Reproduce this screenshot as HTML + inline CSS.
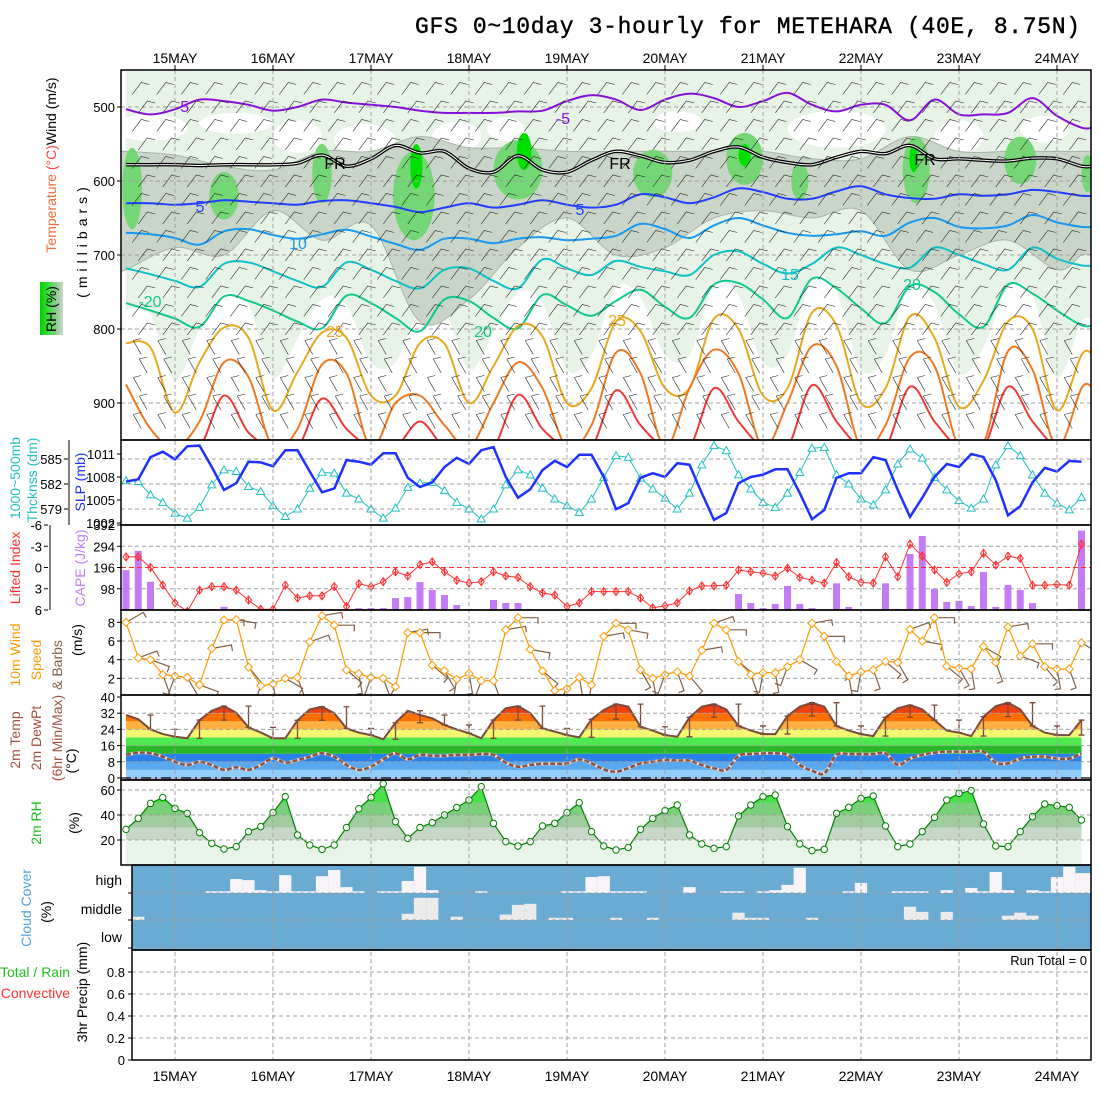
<!DOCTYPE html>
<html><head><meta charset="utf-8"><title>GFS meteogram METEHARA</title>
<style>
html,body{margin:0;padding:0;background:#fff;}
svg{display:block;font-family:"Liberation Sans",sans-serif;}
</style></head>
<body>
<svg id="c" xmlns="http://www.w3.org/2000/svg" width="1100" height="1100" viewBox="0 0 1100 1100">
<rect x="0" y="0" width="1100" height="1100" fill="#fff"/>
<text x="415" y="33" font-family="Liberation Mono, monospace" font-size="23" textLength="665" stroke="#000" stroke-width="0.4">GFS 0~10day 3-hourly for METEHARA (40E, 8.75N)</text>
<defs>
<clipPath id="cpTop"><rect x="121" y="70" width="970" height="370"/></clipPath>
<clipPath id="cpThk"><rect x="121" y="440" width="970" height="85"/></clipPath>
<clipPath id="cpCape"><rect x="121" y="525" width="970" height="85"/></clipPath>
<clipPath id="cpWind"><rect x="121" y="610" width="970" height="85"/></clipPath>
<clipPath id="cpTemp"><rect x="121" y="695" width="970" height="85"/></clipPath>
<clipPath id="cpRh"><rect x="121" y="780" width="970" height="85"/></clipPath>
<linearGradient id="rhBox" x1="0" y1="0" x2="1" y2="0">
<stop offset="0" stop-color="#00d000"/><stop offset="0.4" stop-color="#40e040"/><stop offset="0.7" stop-color="#90c890"/><stop offset="1" stop-color="#c8d8c8"/>
</linearGradient>
</defs>
<g id="layer"></g>
<g font-size="14">
<rect x="40" y="282" width="23" height="53" fill="url(#rhBox)"/>
<text transform="rotate(-90 56 309)" x="56" y="309" text-anchor="middle">RH (%)</text>
<text transform="rotate(-90 56 165)" x="56" y="165" text-anchor="middle"><tspan fill="#f06a3a">Temperature</tspan><tspan fill="#ff4040"> (°C)</tspan><tspan fill="#000">Wind (m/s)</tspan></text>
<text transform="rotate(-90 87 240)" x="87" y="240" text-anchor="middle" letter-spacing="5">(millibars)</text>
<text transform="rotate(-90 20 478)" x="20" y="478" text-anchor="middle" fill="#20c0c0">1000~500mb</text>
<text transform="rotate(-90 37 480)" x="37" y="480" text-anchor="middle" fill="#20c0c0">Thcknss (dm)</text>
<text transform="rotate(-90 85 482)" x="85" y="482" text-anchor="middle" fill="#2030ff">SLP (mb)</text>
<text transform="rotate(-90 20 568)" x="20" y="568" text-anchor="middle" fill="#ff3030">Lifted Index</text>
<text transform="rotate(-90 85 568)" x="85" y="568" text-anchor="middle" fill="#c080f8">CAPE (J/kg)</text>
<text transform="rotate(-90 20 655)" x="20" y="655" text-anchor="middle" fill="#ff9900">10m Wind</text>
<text transform="rotate(-90 41 660)" x="41" y="660" text-anchor="middle" fill="#ff9900">Speed</text>
<text transform="rotate(-90 62 665)" x="62" y="665" text-anchor="middle" fill="#806048">&amp; Barbs</text>
<text transform="rotate(-90 82 640)" x="82" y="640" text-anchor="middle">(m/s)</text>
<text transform="rotate(-90 20 740)" x="20" y="740" text-anchor="middle" fill="#a05040">2m Temp</text>
<text transform="rotate(-90 41 738)" x="41" y="738" text-anchor="middle" fill="#a05040">2m DewPt</text>
<text transform="rotate(-90 62 738)" x="62" y="738" text-anchor="middle" fill="#a05040">(6hr Min/Max)</text>
<text transform="rotate(-90 76 761)" x="76" y="761" text-anchor="middle">(°C)</text>
<text transform="rotate(-90 41 823)" x="41" y="823" text-anchor="middle" fill="#20c020">2m RH</text>
<text transform="rotate(-90 79 823)" x="79" y="823" text-anchor="middle">(%)</text>
<text transform="rotate(-90 31 908)" x="31" y="908" text-anchor="middle" fill="#50a0d8">Cloud Cover</text>
<text transform="rotate(-90 51 912)" x="51" y="912" text-anchor="middle">(%)</text>
<text x="70" y="977" text-anchor="end" fill="#20c020">Total / Rain</text>
<text x="70" y="998" text-anchor="end" fill="#ff3030">Convective</text>
<text transform="rotate(-90 87 992)" x="87" y="992" text-anchor="middle">3hr Precip (mm)</text>
<text x="1087" y="965" text-anchor="end" font-size="13">Run Total = 0</text>
</g>
</svg>
<script>
// ===== DATA =====
const days = ["15MAY","16MAY","17MAY","18MAY","19MAY","20MAY","21MAY","22MAY","23MAY","24MAY"];
const slp = [1007.4,1007.7,1010.6,1011.3,1010.3,1012,1012.1,1009.3,1006.3,1007.2,1010,1009.9,1009.4,1011.5,1011.5,1008.7,1006,1006.5,1010.2,1010,1009.6,1011.1,1011.1,1007.9,1006.7,1007.3,1009.3,1010.5,1009.7,1011.5,1011.9,1008,1005.3,1006.4,1008.9,1010.1,1009.3,1010.9,1010.9,1008,1003.8,1004.6,1007.9,1008.5,1008,1009.8,1009.6,1005.9,1002.4,1003.3,1007.2,1008,1008.3,1009,1009,1005.9,1002.5,1003.7,1007.9,1008.5,1008.5,1010.6,1010.2,1006.3,1002.8,1005.3,1008,1009.7,1009.3,1011,1010.6,1007.6,1003,1004.2,1007.3,1009.2,1008.7,1010.1,1010];
const thick = [582.4,582.3,580.7,579.8,578.5,577.9,579.2,581.9,583.7,583.5,581.7,581.1,579.4,578.1,579,581.5,583.4,583.3,580.9,580.2,579,577.9,579.1,581.6,582.1,582.2,581.2,579.8,579,577.8,579,581.9,583.7,583.1,581.5,580.2,579.4,578.6,580.2,582.8,585.4,585.2,582.7,581.4,580.3,579,580.9,584.3,586.6,586,583.1,581.4,579.8,579.2,580.9,583.4,586.3,586.4,583.1,582,580.2,579.5,581.3,584.4,586.2,585.1,582.8,581.3,580,579.1,580.2,584.3,586.6,585.4,583.1,580.9,579.7,578.9,580.4];
const cape = [184,273,130,0,0,0,0,5,15,0,0,0,0,0,0,0,5,0,0,9,9,9,55,60,129,92,69,23,5,0,46,32,32,5,0,0,0,0,0,5,5,0,0,0,0,0,0,5,5,0,74,32,9,28,111,28,9,0,123,14,0,0,123,5,258,341,97,37,42,18,175,14,115,92,32,0,0,5,366];
const liftedIndex = [-1.5,-1.5,0,2.5,5,6.2,3.2,2.7,2.7,3.2,4.6,5.9,5.9,2.5,4.3,4,4,2.7,5.5,2.3,2.7,2,0.6,1.2,-0.4,-0.8,0.6,1.8,2.2,2,0.6,1.2,1.4,2.7,3.6,3.9,5.5,5,3.4,3.4,3.4,3.4,4.3,5.7,5.4,5,3.3,2.6,2.6,2.5,0.35,0.6,0.8,1.2,0.1,1.4,1.8,2.2,-0.7,1.3,2.1,2.2,-1.5,1.3,-3.3,-1.6,0.35,2.1,0.9,0.6,-2,-0.35,-1.6,-1.3,2.5,2.5,2.4,2.5,-3.3];
const windSpeed = [8.0,4.2,4.0,2.4,2.25,2.1,1.3,5.2,8.25,8.3,3.2,1.2,1.4,2,2.1,5.9,8.7,7.7,2.9,2.5,2.1,2.0,1.1,6.9,6.9,3.4,2.8,1.9,2.5,1.75,1.75,7.2,8.5,5.1,2.8,0.7,0.9,2.1,1.3,6.5,7.9,7.2,2.9,2.0,2.4,2.7,2.25,5,7.9,7.2,3.8,2.4,2.6,2.6,3.25,4,7.9,6.5,3.8,2.25,2.7,2.9,3.8,3.7,7.25,6.0,8.5,3.3,3.1,3,5.4,3.7,7.5,4.4,5.7,3.25,3,3,5.8];
const windDir = [60,70,110,160,200,150,110,80,90,100,140,200,170,120,160,70,80,90,130,170,200,160,210,80,90,130,150,190,170,200,160,80,90,100,130,200,210,170,190,80,90,100,150,170,200,160,140,80,70,90,130,160,190,170,200,120,80,90,140,170,190,160,130,150,70,100,90,130,150,170,120,160,80,110,90,140,170,160,120];
const temp2m = [31.1,29,24,21.7,20.4,19.6,28.6,33.2,35.5,32.2,25,22.4,19.6,19.6,28.5,33.9,35.2,32,24.5,22.4,21.2,19.1,27.3,33.2,31.1,29.5,26.2,24,22.1,19.6,28.6,34.4,35.5,32,24.5,22.9,21.2,20.1,29,33.6,36.5,35.2,25.3,23.4,21.2,20.4,30,35.2,36.5,33.9,25.7,23.4,21.7,21.7,30.6,35.2,37.2,35.2,25.7,23.4,21.7,20.7,30,34.4,36,33.9,28.6,23.4,22.4,20.7,30.3,35.5,37.2,33.9,25.7,22.4,21.2,21.2,28.6];
const dewpt2m = [11.4,12.5,12.2,10.5,8,6.4,8,6.4,4,5.3,4,6.4,9.7,7.6,8.9,10.5,12.2,10.5,6.4,4,5.6,9.2,12.2,9.2,11.4,11,11,11.4,11.4,11.8,11.4,7.6,5.6,6.4,7,7,7.2,9.2,7.2,4.3,3.1,4.9,7.2,8,8.9,8.6,8.6,6.4,4.8,4,10.9,11.8,12.2,12.2,11.4,6.4,3.6,2.3,11.4,11.8,11.8,11.8,12.2,6.4,9.6,11.4,12.5,13,13,13,13,7.6,7.2,9.6,10.5,10.5,9.6,9.6,12.2];
const rh2m = [28.5,37.3,49.3,54,45.3,41.3,25.9,17.3,12.8,14.7,26.7,30.7,42,54.7,24,16,12.5,16,30,45,54,65,34.7,21.3,30,33.9,40,46,52,62.7,33.3,18.7,15.2,18.7,31.2,33.3,41.9,49.9,26.7,15.2,12,14,28.5,37.3,43.5,48,24,16.8,13.3,14.7,39.2,48,54.7,56,30.7,16.8,11.5,12.5,41.3,46.1,53.3,55.2,31.2,14.7,16.8,26.7,38.1,52,57.3,59.5,32.8,15.2,14.7,26.7,38.7,48.8,47.5,46.1,36];
const cloudHigh = [0,0,0,0,0,0,0,.06,.06,.5,.46,.1,.06,.64,.06,.06,.6,.82,.21,.06,0,.06,.06,.43,.93,.1,0,0,0,.06,0,0,0,0,0,0,.06,.06,.57,.6,.06,.06,.06,0,0,0,.21,0,0,.06,.06,0,.06,.1,.29,.9,0,0,0,.06,.36,0,0,.06,.06,.06,0,.1,0,.18,.06,.75,.1,0,.1,.06,.57,.93,.71];
const cloudMid = [0,.12,0,0,0,0,0,0,0,0,0,0,0,0,0,0,0,0,0,0,0,0,0,.23,.82,.82,0,.12,0,0,0,.2,.56,.6,0,.08,.08,0,0,0,.08,0,0,.08,0,0,0,0,0,0,.27,.08,.08,0,0,0,.08,0,0,0,0,0,0,0,.49,.3,0,.3,0,0,0,0,.16,.27,.16,0,0,0,0];
const isoM5 = [503,510,503,490,492,497,505,500,490,494,497,500,505,508,508,508,506,505,492,484,490,504,490,482,488,500,492,481,497,506,497,497,518,490,510,510,508,488,512,528];
const isoFR = [578,578,578,579,578,578,578,576,565,580,570,552,562,560,583,588,566,585,588,572,560,566,575,572,560,554,568,575,578,568,560,563,552,570,570,572,573,569,570,580];
const iso5 = [630,630,632,630,626,628,630,632,627,626,630,635,642,636,630,636,632,626,632,636,632,618,622,630,622,610,615,624,624,614,607,618,623,624,618,620,618,612,615,620];
const iso10 = [670,672,677,686,668,665,673,678,672,666,675,685,693,678,678,684,678,676,680,678,674,658,665,677,660,650,660,670,674,672,668,674,656,650,662,664,660,646,656,662];
const iso15 = [718,726,735,743,712,710,722,735,743,710,720,735,745,720,718,735,745,706,718,727,708,716,722,727,700,695,712,725,712,690,700,712,717,690,700,712,720,690,705,714];
const iso20 = [765,775,786,797,756,762,775,790,799,755,765,785,803,760,762,785,799,754,768,782,762,747,770,785,740,738,760,785,732,745,772,792,742,750,780,797,740,752,775,795];
const iso25 = [819,825,913,845,798,812,910,858,805,812,890,890,819,820,900,850,796,810,900,880,790,803,880,880,786,800,890,880,778,795,900,880,783,812,905,870,790,800,910,835];
const iso30 = [875,935,960,925,845,865,960,935,848,860,960,900,890,930,960,900,845,880,960,930,832,860,960,880,828,860,960,900,823,850,960,930,838,850,960,955,830,855,960,880];
const iso35 = [960,960,960,960,890,940,960,960,894,935,960,960,925,960,960,960,889,935,960,960,883,930,960,960,880,925,960,960,876,925,960,960,878,925,960,960,878,925,960,960];
const moistTop = [560,565,580,585,560,560,540,555,555,560,560,560,560,560,570,570,540,560,560,560,560];
const moistBot = [720,690,700,640,680,660,790,760,690,650,700,690,650,640,650,640,720,700,680,720,700];
const wetCores = [[0.5,610,0.8,55],[8,620,1.2,32],[16,590,0.8,40],[23.5,620,1.7,60],[32,585,2,40],[43,590,1.6,32],[50.5,570,1.5,35],[55,600,0.7,25],[64.5,585,1.1,45],[73,572,1.3,32],[78.5,590,0.5,25]];
const satCores = [[23.7,580,0.5,30],[32.5,560,0.6,25],[50.5,565,0.5,15],[64.3,570,0.35,18]];
const dryPockets = [[2,528,3,18],[9,522,3,14],[14,540,2,22],[19.5,545,2.5,22],[27,540,2,20],[31,530,1.5,16],[45,520,2,14],[58,530,4,25],[68,540,2,22],[75,530,2,18]];
const levels = [475,500,525,550,575,600,625,650,675,700,725,750,775,800,825,850,875,900,925];

// ===== SCALES =====
const X = i => 126 + 12.25*i;
const DX = k => 175 + 98*k;
const P = p => 70 + (p-450)*0.74;
const ySlp = v => 454 + (1011-v)*7.667;
const yThk = v => 459 + (585-v)*8.333;
const yCape = v => 610 - v*85/392;
const yLi = v => 567.5 + v*7.083;
const yWs = v => 697 - v*9.33;
const yT = v => 778 - v*2.025;
const yRh = v => 865 - v*1.25;
const yPr = v => 1060 - v*110;

const NS = "http://www.w3.org/2000/svg";
const root = document.getElementById('layer');
function mk(tag, attrs, parent){ const e=document.createElementNS(NS,tag); for(const k in attrs) e.setAttribute(k,attrs[k]); (parent||root).appendChild(e); return e; }
function cat(pts){ if(!pts.length) return ""; let d="M"+pts[0][0].toFixed(1)+","+pts[0][1].toFixed(1);
  for(let i=0;i<pts.length-1;i++){ const p0=pts[Math.max(0,i-1)],p1=pts[i],p2=pts[i+1],p3=pts[Math.min(pts.length-1,i+2)];
   const c1=[p1[0]+(p2[0]-p0[0])/6,p1[1]+(p2[1]-p0[1])/6], c2=[p2[0]-(p3[0]-p1[0])/6,p2[1]-(p3[1]-p1[1])/6];
   d+=" C"+c1[0].toFixed(1)+","+c1[1].toFixed(1)+" "+c2[0].toFixed(1)+","+c2[1].toFixed(1)+" "+p2[0].toFixed(1)+","+p2[1].toFixed(1);} return d; }
function poly(pts){ return "M"+pts.map(p=>p[0].toFixed(1)+","+p[1].toFixed(1)).join(" L"); }
function isoPts(arr, off){ const pts=arr.map((p,k)=>[X(2*k), P(Math.min(p,965)+(off||0))]); pts.push([1093, pts[pts.length-1][1]]); return pts; }

// ===== TOP PANEL =====
const gTop = mk('g',{'clip-path':'url(#cpTop)'});


const bgTop = mk('rect',{x:126,y:70,width:965,height:370,fill:'#e8f3e8'},gTop);


{ const pts=isoPts(iso25,-45); const d=cat(pts)+" L1093,445 L126,445 Z";
  const w=mk('path',{d:d,fill:'#ffffff'},gTop);
  
   }
dryPockets.forEach(b=>{ const e=mk('ellipse',{cx:X(b[0]),cy:P(b[1]),rx:b[2]*12.25,ry:b[3]*0.74,fill:'#ffffff'},gTop);
  
   });
{ const ix=[]; for(let k=0;k<20;k++) ix.push(4*k); ix.push(78);
  const top=ix.map((i,k)=>[X(i),P(moistTop[k])]); const bot=ix.map((i,k)=>[X(i),P(moistBot[k])]).reverse();
  top.unshift([121,top[0][1]]); top.push([1093,top[top.length-1][1]]); bot.unshift([1093,bot[0][1]]); bot.push([121,bot[bot.length-1][1]]);
  const d=cat(top)+" L"+bot[0][0]+","+bot[0][1]+" "+cat(bot).slice(1)+" Z";
  const g=mk('path',{d:d,fill:'#c8d5c8',stroke:'#a8b4a8','stroke-width':1},gTop);
  
   }
wetCores.forEach(b=>{ const e=mk('ellipse',{cx:X(b[0]),cy:P(b[1]),rx:b[2]*12.25,ry:b[3]*0.74,fill:'#74d674'},gTop);
  
   });
satCores.forEach(b=>{ const e=mk('ellipse',{cx:X(b[0]),cy:P(b[1]),rx:b[2]*12.25,ry:b[3]*0.74,fill:'#00e000'},gTop);
  
   });
[500,600,700,800,900].forEach(p=>{ const l=mk('line',{x1:121,x2:1091,y1:P(p),y2:P(p),stroke:'#a0a0a0','stroke-dasharray':'4,3'},gTop);
  
   });
const isoDefs=[[isoM5,'#8a10d8',2,'isotherm-minus5'],[iso5,'#2040ff',2,'isotherm-5'],[iso10,'#1898f0',2,'isotherm-10'],[iso15,'#10c0c8',2,'isotherm-15'],[iso20,'#10c890',2,'isotherm-20'],[iso25,'#e8a820',2,'isotherm-25'],[iso30,'#f07820',2,'isotherm-30'],[iso35,'#f03838',2,'isotherm-35']];
isoDefs.forEach(a=>{ const pth=mk('path',{d:cat(isoPts(a[0])),fill:'none',stroke:a[1],'stroke-width':a[2]},gTop);
  
   });
{ const d=cat(isoPts(isoFR));
  const f1=mk('path',{d:d,fill:'none',stroke:'#000','stroke-width':3.5},gTop);
  
  
  const f2=mk('path',{d:d,fill:'none',stroke:'#fff','stroke-width':1},gTop);
  
   }
for(let i=1;i<79;i+=2){ levels.forEach((p,li)=>{ const x=X(i)+((li%2)?6:0), y=P(p); let d;
  if(p<=800) d="M"+(x-6)+","+(y+6)+" L"+(x+3)+","+(y-6)+" L"+(x+11)+","+(y-4);
  else d="M"+(x-5)+","+(y-7)+" L"+(x+3)+","+(y+7)+" M"+(x-5)+","+(y-7)+" L"+(x+3)+","+(y-9);
  const b=mk('path',{d:d,fill:'none',stroke:'#202020','stroke-width':0.6},gTop);
  
   }); }
[[182,112,'-5','#8a10d8'],[563,124,'-5','#8a10d8'],[200,212,'5','#2040ff'],[580,215,'5','#2040ff'],[298,249,'10','#1898f0'],[790,280,'15','#10c0c8'],[150,307,'-20','#10c890'],[483,337,'20','#10c890'],[912,290,'20','#10c890'],[335,337,'25','#e8a820'],[617,326,'25','#e8a820'],[335,169,'FR','#000'],[620,169,'FR','#000'],[925,165,'FR','#000']].forEach(t=>{
  const tx=mk('text',{x:t[0],y:t[1],fill:t[3],'font-size':16,'text-anchor':'middle'},gTop); tx.textContent=t[2];
  
   });

// ===== AXIS HELPERS =====
function tickLabels(list, yf, xr, color, name){ list.forEach(v=>{ const y=yf(v);
  const t=mk('text',{x:xr,y:y+5,'text-anchor':'end','font-size':13,fill:color||'#000'}); t.textContent=String(v);
  
  
  const tk=mk('line',{x1:xr+2,x2:xr+6,y1:y,y2:y,stroke:'#000'});
  
   }); }
function hgrid(ys, x0, color, dash){ ys.forEach(y=>{ const l=mk('line',{x1:x0,x2:1091,y1:y,y2:y,stroke:color||'#a0a0a0','stroke-dasharray':dash||'4,3'});
  
   }); }
tickLabels([500,600,700,800,900],P,115,'#000','pressure-tick-label');

// ===== THICKNESS / SLP =====
hgrid([yThk(585),yThk(582),yThk(579)],121);
tickLabels([585,582,579],yThk,62,'#000','thickness-tick-label');
tickLabels([1011,1008,1005,1002],ySlp,115,'#000','slp-tick-label');
{ const ax=mk('line',{x1:69,x2:69,y1:440,y2:525,stroke:'#000'});
  
   }
const gThk=mk('g',{'clip-path':'url(#cpThk)'});


{ const tl=mk('path',{d:poly(thick.map((v,i)=>[X(i),yThk(v)])),fill:'none',stroke:'#20c0c0','stroke-width':1},gThk);
  
  
  thick.forEach((v,i)=>{ const x=X(i),y=yThk(v); const m=mk('path',{d:`M${x},${y-4} L${x+4},${y+3} L${x-4},${y+3} Z`,fill:'#fff',stroke:'#20c0c0'},gThk);
    
     });
  const sl=mk('path',{d:poly(slp.map((v,i)=>[X(i),ySlp(v)])),fill:'none',stroke:'#2030ff','stroke-width':2.5},gThk);
  
   }

// ===== CAPE / LI =====
hgrid([yCape(294),yCape(98)],121);
tickLabels([392,294,196,98],yCape,115,'#000','cape-tick-label');
tickLabels([-6,-3,0,3,6],yLi,42,'#000','li-tick-label');
{ const ax=mk('line',{x1:50,x2:50,y1:525,y2:610,stroke:'#000'});
  
   }
const gCape=mk('g',{'clip-path':'url(#cpCape)'});


cape.forEach((v,i)=>{ if(v<=0) return; const y=yCape(v); const r=mk('rect',{x:X(i)-3.5,y:y,width:7,height:610-y,fill:'#c47cf6'},gCape);
  
   });
{ const z=mk('line',{x1:121,x2:1091,y1:yLi(0),y2:yLi(0),stroke:'#ff3030','stroke-dasharray':'5,3'},gCape);
  
  
  const ll=mk('path',{d:poly(liftedIndex.map((v,i)=>[X(i),yLi(v)])),fill:'none',stroke:'#ff3030','stroke-width':1},gCape);
  
  
  liftedIndex.forEach((v,i)=>{ const x=X(i),y=yLi(v); const m=mk('path',{d:`M${x},${y-4} L${x+3},${y} L${x},${y+4} L${x-3},${y} Z M${x},${y-4} L${x},${y+4}`,fill:'none',stroke:'#ff3030'},gCape);
    
     }); }

// ===== WIND =====
hgrid([yWs(8),yWs(6),yWs(4),yWs(2)],121);
tickLabels([8,6,4,2],yWs,115,'#000','wind-tick-label');
const gWind=mk('g',{'clip-path':'url(#cpWind)'});


windSpeed.forEach((v,i)=>{ const x=X(i),y=yWs(v); const a=windDir[i]*Math.PI/180; const L=20;
  const ex=x+Math.sin(a)*L, ey=y-Math.cos(a)*L; const bx=ex+Math.sin(a+Math.PI/2)*6, by=ey-Math.cos(a+Math.PI/2)*6;
  const b=mk('path',{d:`M${x.toFixed(1)},${y.toFixed(1)} L${ex.toFixed(1)},${ey.toFixed(1)} L${bx.toFixed(1)},${by.toFixed(1)}`,fill:'none',stroke:'#806048','stroke-width':1.2},gWind);
  
   });
{ const wl=mk('path',{d:poly(windSpeed.map((v,i)=>[X(i),yWs(v)])),fill:'none',stroke:'#ff9900','stroke-width':1.2},gWind);
  
  
  windSpeed.forEach((v,i)=>{ const x=X(i),y=yWs(v); const m=mk('path',{d:`M${x},${y-4} L${x+4},${y} L${x},${y+4} L${x-4},${y} Z`,fill:'#fff',stroke:'#ff9900'},gWind);
    
     }); }

// ===== TEMPERATURE =====
const gTemp=mk('g',{'clip-path':'url(#cpTemp)'});


{ const cp=mk('clipPath',{id:'tArea'},document.querySelector('defs'));
  mk('path',{d:poly(temp2m.map((v,i)=>[X(i),yT(v)]))+` L${X(78)},779 L${X(0)},779 Z`},cp);
  const bands=[[0,4,'#90cdf8'],[4,8,'#58a8f0'],[8,12,'#2a80e8'],[12,16,'#28b828'],[16,20,'#50e850'],[20,24,'#f0f870'],[24,28,'#ffb040'],[28,32,'#ff7000'],[32,36,'#f04010'],[36,44,'#c01010']];
  const gb=mk('g',{'clip-path':'url(#tArea)'},gTemp);
  
  
  bands.forEach(b=>{ const r=mk('rect',{x:121,y:yT(b[1]),width:970,height:yT(b[0])-yT(b[1]),fill:b[2]},gb);
    
     });
  const strip=mk('rect',{x:X(0),y:778,width:X(78)-X(0),height:2,fill:'#c8a8d8'},gTemp);
  
   }
hgrid([yT(32),yT(24),yT(16),yT(8)],121);
tickLabels([40,32,24,16,8,0],yT,115,'#000','temp-tick-label');
{ const z=mk('line',{x1:121,x2:1091,y1:yT(0),y2:yT(0),stroke:'#000','stroke-dasharray':'10,4,2,4','stroke-width':1.2},gTemp);
  
  
  for(let i=2;i<79;i+=2){ const seg=temp2m.slice(i-2,i+1); const hi=Math.max(...seg), lo=Math.min(...seg); const x=X(i);
    const e=mk('path',{d:`M${x},${yT(hi)} L${x},${yT(lo)} M${x-3},${yT(hi)} L${x+3},${yT(hi)} M${x-3},${yT(lo)} L${x+3},${yT(lo)}`,stroke:'#7a4a3a','stroke-width':1.3,fill:'none'},gTemp);
    
     }
  const tl=mk('path',{d:poly(temp2m.map((v,i)=>[X(i),yT(v)])),fill:'none',stroke:'#7a4a3a','stroke-width':2},gTemp);
  
  
  const dd=cat(dewpt2m.map((v,i)=>[X(i),yT(v)]));
  const dw=mk('path',{d:dd,fill:'none',stroke:'#e8e0e0','stroke-width':3},gTemp);
  
  
  const dl=mk('path',{d:dd,fill:'none',stroke:'#8b5040','stroke-width':2.5,'stroke-dasharray':'5,2'},gTemp);
  
   }

// ===== 2m RH =====
const gRh=mk('g',{'clip-path':'url(#cpRh)'});


{ const cp=mk('clipPath',{id:'rhArea'},document.querySelector('defs'));
  mk('path',{d:poly(rh2m.map((v,i)=>[X(i),yRh(v)]))+` L${X(78)},865 L${X(0)},865 Z`},cp);
  const gb=mk('g',{'clip-path':'url(#rhArea)'},gRh);
  
  
  [[0,20,'#e8f4e8'],[20,30,'#c8d8c8'],[30,40,'#a0cca0'],[40,50,'#78d078'],[50,80,'#48e048']].forEach(b=>{
    const r=mk('rect',{x:121,y:yRh(b[1]),width:970,height:yRh(b[0])-yRh(b[1]),fill:b[2]},gb);
    
     }); }
hgrid([yRh(60),yRh(40),yRh(20)],121);
tickLabels([60,40,20],yRh,115,'#000','rh-tick-label');
{ const rl=mk('path',{d:poly(rh2m.map((v,i)=>[X(i),yRh(v)])),fill:'none',stroke:'#008000','stroke-width':1.2},gRh);
  
  
  rh2m.forEach((v,i)=>{ const c=mk('circle',{cx:X(i),cy:yRh(v),r:3.2,fill:'#fff',stroke:'#008000'},gRh);
    
     }); }

// ===== CLOUD =====
{ const bg=mk('rect',{x:132,y:865,width:959,height:85,fill:'#6aabd4'});
  
  
  cloudHigh.forEach((v,i)=>{ if(v<=0) return; const x0=Math.max(133,X(i)-6.125), x1=(i===78)?1091:X(i)+6.125; const h=v*28;
    const r=mk('rect',{x:x0,y:893-h,width:x1-x0,height:h,fill:'#f8f4f8'});
    
     });
  cloudMid.forEach((v,i)=>{ if(v<=0) return; const x0=Math.max(133,X(i)-6.125), x1=X(i)+6.125; const h=v*27;
    const r=mk('rect',{x:x0,y:920-h,width:x1-x0,height:h,fill:'#ebebeb'});
    
     });
  hgrid([893,920,948],132);
  [['high',885],['middle',914],['low',942]].forEach(t=>{ const tx=mk('text',{x:122,y:t[1],'text-anchor':'end','font-size':14}); tx.textContent=t[0];
    
     });
  [893,920,948].forEach(y=>{ const tk=mk('line',{x1:128,x2:132,y1:y,y2:y,stroke:'#000'});
    
     }); }

// ===== PRECIP =====
hgrid([yPr(0.8),yPr(0.6),yPr(0.4),yPr(0.2)],132);
[0.8,0.6,0.4,0.2,0].forEach(v=>{ const t=mk('text',{x:125,y:yPr(v)+5,'text-anchor':'end','font-size':13}); t.textContent=(v===0?'0':v.toFixed(1));
  
  
  const tk=mk('line',{x1:128,x2:132,y1:yPr(v),y2:yPr(v),stroke:'#000'});
  
   });

// ===== DAY GRID + LABELS + FRAMES =====
days.forEach((d,k)=>{ const x=DX(k);
  const l=mk('line',{x1:x,x2:x,y1:70,y2:1060,stroke:'#a0a0a0','stroke-dasharray':'4,3'});
  
  
  const t1=mk('text',{x:x,y:63,'text-anchor':'middle','font-size':14}); t1.textContent=d;
  
  
  const t2=mk('text',{x:x,y:1081,'text-anchor':'middle','font-size':14}); t2.textContent=d;
  
  
  const tk=mk('line',{x1:x,x2:x,y1:65,y2:70,stroke:'#000'});
  
   });
[[121,70,970,370],[121,440,970,85],[121,525,970,85],[121,610,970,85],[121,695,970,85],[121,780,970,85],[132,865,959,85],[132,950,959,110]].forEach(f=>{
  const r=mk('rect',{x:f[0],y:f[1],width:f[2],height:f[3],fill:'none',stroke:'#000','stroke-width':1.5});
  
   });
</script>
</body></html>
